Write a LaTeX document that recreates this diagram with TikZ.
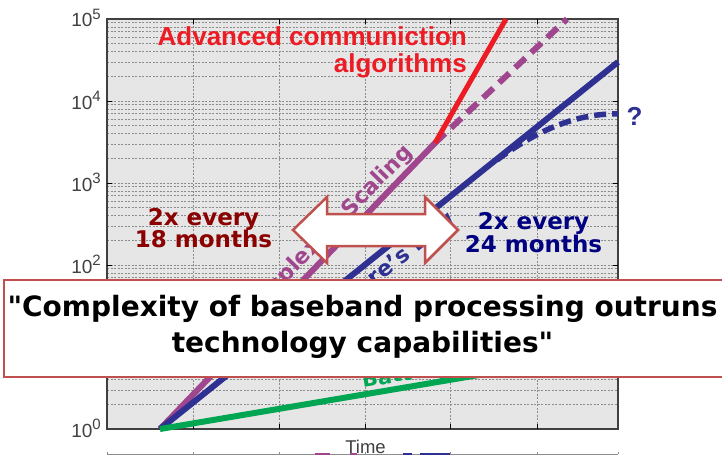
\documentclass[tikz,border=0pt]{standalone}
\usepackage{fontspec}
\setmainfont{Liberation Sans}
\newfontfamily\dvs{DejaVu Sans}
\definecolor{cred}{HTML}{ED1C24}
\definecolor{cpur}{HTML}{A0468E}
\definecolor{cnavy}{HTML}{2E3192}
\definecolor{cgreen}{HTML}{00A651}
\definecolor{cmaroon}{HTML}{8B0000}
\definecolor{cblue}{HTML}{000080}
\definecolor{cbox}{HTML}{C0504D}
\definecolor{cbg}{HTML}{E6E6E6}
\definecolor{cgrid}{HTML}{8C8C8C}
\definecolor{caxis}{HTML}{404040}
\tikzset{
  gridline/.style={cgrid, line width=0.6pt, dash pattern=on 2pt off 1.5pt},
  axlbl/.style={inner sep=0pt, anchor=base east, text=caxis, font=\fontsize{19}{19}\selectfont},
  vlbl/.style={inner sep=0pt, font=\dvs\bfseries\fontsize{22}{22}\selectfont},
  advtxt/.style={inner sep=0pt, anchor=base east, text=cred, font=\bfseries\fontsize{26}{26}\selectfont},
  ratetxt/.style={inner sep=0pt, anchor=base, font=\dvs\bfseries\fontsize{23}{23}\selectfont},
  boxtxt/.style={inner sep=0pt, anchor=base, text=black, font=\dvs\bfseries\fontsize{28}{28}\selectfont},
}
\newcommand{\supr}[1]{\raisebox{8pt}{\fontsize{15}{15}\selectfont #1}}
\begin{document}
\begin{tikzpicture}[x=1pt, y=-1pt]
\useasboundingbox (0,0) rectangle (722,455);
\fill[white] (0,0) rectangle (722,455);
% plot area
\fill[cbg] (107,19) rectangle (618,429);
\foreach \x in {193,279,365,450,537} \draw[gridline] (\x,19) -- (\x,429);
\foreach \d in {0,...,4} {
  \foreach \k in {2,...,10} {
    \pgfmathsetmacro\yy{429-82*\d-82*ln(\k)/ln(10)}
    \draw[gridline] (107,\yy) -- (618,\yy);
  }
}
\draw[caxis, line width=1.3pt] (107,19) rectangle (618,429);
\foreach \y in {101,183,265,347} {
  \draw[black, line width=1pt] (107,\y) -- ++(5,0);
  \draw[black, line width=1pt] (618,\y) -- ++(-5,0);
}
\foreach \x in {193,279,365,450,537} {
  \draw[black, line width=0.8pt] (\x,429) -- ++(0,-5);
  \draw[black, line width=0.8pt] (\x,19) -- ++(0,5);
}
% axis labels
\node[axlbl] (y5) at (101,27) {10\supr{5}};
\node[axlbl] (y4) at (101,109) {10\supr{4}};
\node[axlbl] (y3) at (101,191) {10\supr{3}};
\node[axlbl] (y2) at (101,273) {10\supr{2}};
\node[axlbl] (y1) at (101,355) {10\supr{1}};
\node[axlbl] (y0) at (101,437) {10\supr{0}};
\node[inner sep=0pt, anchor=base, text=caxis, font=\fontsize{18.5}{18.5}\selectfont] (time) at (365.5,453) {Time};
% bottom fragment of next figure
\draw[cgrid, line width=0.8pt] (107,454) -- (618,454);
\foreach \x in {107,193,279,365,450,537,618} \draw[cgrid, line width=0.8pt] (\x,454) -- ++(0,-2.5);
\fill[cpur] (315,452.5) rectangle (330,455);
\fill[cpur] (350,452.5) rectangle (357,455);
\fill[cnavy] (403,452.5) rectangle (412,455);
\fill[cnavy] (420,452.5) rectangle (450,455);
% curves
\coordinate (o) at (160,429);
\coordinate (k) at (435,143);
\coordinate (ptop) at (567,19);
\coordinate (rtop) at (506,19);
\coordinate (nend) at (618,62);
\coordinate (ns) at (497,160);
\coordinate (nq) at (618,114);
\coordinate (gend) at (520,368);
\draw[cpur, line width=6pt] (o) -- (k);
\draw[cpur, line width=6pt, dash pattern=on 14pt off 8pt] (k) -- (ptop);
\draw[cnavy, line width=6pt] (o) -- (nend);
\draw[cnavy, line width=5.5pt, dash pattern=on 12pt off 6pt] (ns) .. controls (540,128) and (580,113) .. (nq);
\draw[cred, line width=5pt] (k) -- (rtop);
\draw[cgreen, line width=6pt] (o) -- (gend);
% curve labels
\node[vlbl, text=cpur, rotate=45.5] (cs) at (326,234) {Complexity Scaling};
\node[vlbl, text=cnavy, rotate=38.6] (ml) at (390,264) {Moore’s Law};
\node[inner sep=0pt, anchor=base west, text=cgreen, rotate=9.5, font=\dvs\bfseries\fontsize{21}{21}\selectfont] (bat) at (363,388) {Battery};
\node[inner sep=0pt, text=cnavy, font=\bfseries\fontsize{26}{26}\selectfont] (q) at (634.5,116.5) {?};
\node[advtxt] (adv1) at (467,45) {Advanced communiction};
\node[advtxt] (adv2) at (467,72) {algorithms};
\node[ratetxt, text=cmaroon] (r18a) at (203.5,225) {2x every};
\node[ratetxt, text=cmaroon] (r18b) at (203.5,247) {18 months};
\node[ratetxt, text=cblue] (r24a) at (533.5,229) {2x every};
\node[ratetxt, text=cblue] (r24b) at (533.5,252) {24 months};
% double arrow
\draw[cbox, line width=2.5pt, fill=white, line join=miter]
  (293,230) -- (327,197) -- (327,214) -- (425,214) -- (425,197) -- (458,230)
  -- (425,263) -- (425,246) -- (327,246) -- (327,263) -- cycle;
% quote box
\draw[cbox, line width=2.5pt, fill=white] (4,280) rectangle (723,377);
\node[boxtxt] (t1) at (362.5,316) {"Complexity of baseband processing outruns};
\node[boxtxt] (t2) at (362.5,352) {technology capabilities"};
\end{tikzpicture}
\end{document}
